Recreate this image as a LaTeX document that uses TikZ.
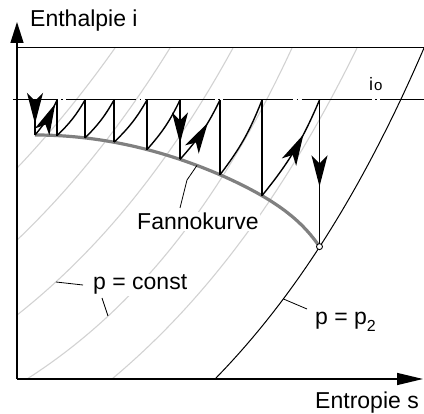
\documentclass[tikz,border=0pt]{standalone}
\usepackage{fontspec}
\setmainfont{Liberation Sans}
\usetikzlibrary{arrows.meta,decorations.markings}
\definecolor{isogray}{RGB}{210,210,210}
\definecolor{fannogray}{RGB}{128,128,128}
\begin{document}
\begin{tikzpicture}[x=1pt,y=-1pt,
  declare function={fy(\x)=135+(0.034059*(\x-35))^2+19*pow(max((\x-35)/286,0.3),13);
    isox(\t,\a,\c,\h)=\t-\a*(ln(1+331/\c)-ln(1+\h/\c));},
  iso/.style={draw=isogray,line width=1.1pt},
  saw/.style={draw=black,line width=1.4pt},
  lbl/.style={font=\fontsize{23}{23}\selectfont,inner sep=1pt},
  myhead/.tip={Stealth[length=31pt,width=16pt,inset=8pt]},
  arrowat/.style={postaction={decorate},decoration={markings,mark=at position #1 with {\arrow{myhead}}}}]
\useasboundingbox (0,0) rectangle (424,414);
% isobars (gray)
\draw[iso] plot[domain=211:331,samples=30,variable=\h] ({isox(115,333,140,\h)},{379-\h});
\draw[iso] plot[domain=139:331,samples=40,variable=\h] ({isox(170,292,140,\h)},{379-\h});
\draw[iso] plot[domain=64:331,samples=50,variable=\h] ({isox(233,258,140,\h)},{379-\h});
\draw[iso] plot[domain=0:331,samples=60,variable=\h] ({isox(292,218.4,140,\h)},{379-\h});
\draw[iso] plot[domain=0:331,samples=60,variable=\h] ({isox(357,274.8,230,\h)},{379-\h});
% isobar p = p2
\draw[black,line width=1pt] plot[domain=0:331,samples=60,variable=\h] ({isox(424,254.5,260,\h)},{379-\h});
% labels with white background
\node[lbl,anchor=base west,fill=white] (fk) at (136,230) {Fannokurve};
\node[lbl,anchor=base west,fill=white] (pc) at (92,290) {p = const};
\node[lbl,anchor=base west,fill=white] (pp) at (314,325) {p = p\raisebox{-7pt}{\fontsize{16}{16}\selectfont 2}};
\node[lbl,anchor=base west] (ylab) at (29,27) {Enthalpie i};
\node[lbl,anchor=base east] (xlab) at (420,409) {Entropie s};
% axes
\coordinate (O) at (17,379);
\coordinate (Ytip) at (17,22);
\coordinate (Xtip) at (423,379);
\draw[line width=1.5pt,-{Triangle[length=21pt,width=13pt]}] (O) -- (Ytip);
\draw[line width=1.5pt,-{Triangle[length=26pt,width=12pt]}] (O) -- (Xtip);
% top line
\coordinate (TL) at (17,48);
\coordinate (TR) at (424,48);
\draw[line width=1pt] (TL) -- (TR);
% i0 line
\coordinate (DL) at (13,100);
\coordinate (DR) at (424,100);
\draw[line width=1pt,dash pattern=on 70pt off 3.5pt on 1.5pt off 3.5pt,dash phase=25.5pt] (DL) -- (DR);
\node[anchor=base west,font=\fontsize{18}{18}\selectfont,inner sep=0pt] (io) at (369,91) {i\kern1pt{\fontsize{15}{15}\selectfont o}};
% Fanno curve
\draw[draw=fannogray,line width=3.2pt] plot[domain=35:319.5,samples=90] (\x,{fy(\x)});
% sawtooth
\foreach \i/\x in {1/35,2/57,3/85,4/114,5/147,6/180,7/220,8/262,9/319.5}{
  \coordinate (T\i) at (\x,100);
  \coordinate (B\i) at (\x,{fy(\x)});
}
\draw[saw,arrowat=0.68] (T1) -- (B1);
\draw[saw,arrowat=0.9] (B1) to[bend right=8] (T2);
\draw[saw] (T2) -- (B2);
\draw[saw] (B2) to[bend right=8] (T3);
\draw[saw] (T3) -- (B3);
\draw[saw] (B3) to[bend right=8] (T4);
\draw[saw] (T4) -- (B4);
\draw[saw] (B4) to[bend right=8] (T5);
\draw[saw] (T5) -- (B5);
\draw[saw] (B5) to[bend right=8] (T6);
\draw[saw,arrowat=0.73] (T6) -- (B6);
\draw[saw,arrowat=0.64] (B6) to[bend right=8] (T7);
\draw[saw] (T7) -- (B7);
\draw[saw] (B7) to[bend right=8] (T8);
\draw[saw] (T8) -- (B8);
\draw[saw,arrowat=0.66] (B8) to[bend right=8] (T9);
\draw[saw,arrowat=0.59] (T9) -- (B9);
\node[circle,draw,fill=white,inner sep=0pt,minimum size=6pt,line width=0.9pt] (C) at (B9) {};
% leaders
\coordinate (fkA) at (197,{fy(197)});
\coordinate (fkB) at (187,180);
\coordinate (fkC) at (180,208);
\draw[line width=0.8pt] (fkA) -- (fkB) -- (fkC);
\coordinate (pcA1) at (56,282);
\coordinate (pcB1) at (83,285);
\coordinate (pcA2) at (102,298);
\coordinate (pcB2) at (108,316);
\draw[line width=0.8pt] (pcA1) -- (pcB1);
\draw[line width=0.8pt] (pcA2) -- (pcB2);
\coordinate (ppA) at (283.5,299);
\coordinate (ppB) at (307,309);
\draw[line width=0.8pt] (ppA) -- (ppB);
\end{tikzpicture}
\end{document}
